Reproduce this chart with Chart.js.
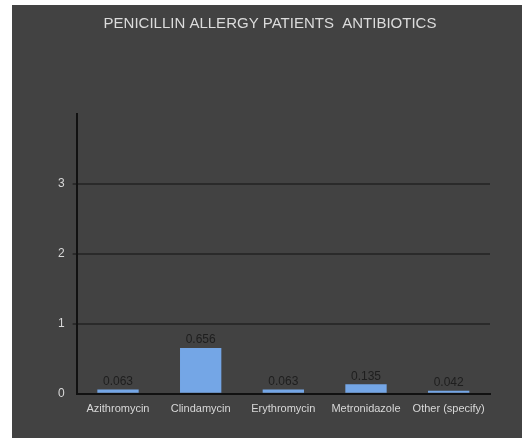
<!DOCTYPE html>
<html>
<head>
<meta charset="utf-8">
<script src="https://cdn.jsdelivr.net/npm/chart.js@4/dist/chart.umd.min.js"></script>
<style>
  html, body { margin: 0; padding: 0; background: #ffffff; }
  #panel { position: absolute; left: 12px; top: 5px; width: 510px; height: 433px; background: #424242; }
  #chart { display: block; }
</style>
</head>
<body>
<div id="panel"><canvas id="chart" width="510" height="433"></canvas></div>
<script>
const categories = ["Azithromycin", "Clindamycin", "Erythromycin", "Metronidazole", "Other (specify)"];
const shares = [0.063, 0.656, 0.063, 0.135, 0.042];
const shareLabels = ["0.063", "0.656", "0.063", "0.135", "0.042"];
const yTicks = [0, 1, 2, 3];

const narrow = "'Liberation Sans Narrow', 'Arial Narrow', 'Liberation Sans', sans-serif";

const valueLabels = {
  id: 'valueLabels',
  afterDatasetsDraw(chart) {
    const ctx = chart.ctx;
    const meta = chart.getDatasetMeta(0);
    ctx.save();
    ctx.font = "12px " + narrow;
    ctx.fillStyle = "#1e1e1e";
    ctx.textAlign = "center";
    ctx.textBaseline = "bottom";
    meta.data.forEach((bar, i) => {
      ctx.fillText(shareLabels[i], bar.x, bar.y - 2);
    });
    ctx.restore();
  }
};

new Chart(document.getElementById('chart'), {
  type: 'bar',
  data: {
    labels: categories,
    datasets: [{
      data: shares,
      backgroundColor: '#74a6e6',
      barPercentage: 0.5,
      categoryPercentage: 1.0
    }]
  },
  options: {
    responsive: false,
    animation: false,
    events: [],
    layout: { padding: { left: 38, right: 32, top: 0, bottom: 13 } },
    plugins: {
      legend: { display: false },
      tooltip: { enabled: false },
      title: {
        display: true,
        text: 'PENICILLIN ALLERGY PATIENTS  ANTIBIOTICS',
        color: '#dcdcdc',
        font: { family: narrow, size: 15, weight: 'normal' },
        padding: { top: 10, bottom: 81 }
      }
    },
    scales: {
      x: {
        grid: { display: false, drawTicks: false },
        border: { display: true, color: '#111111', width: 2 },
        ticks: { color: '#d8d8d8', font: { family: narrow, size: 11 }, padding: 9, maxRotation: 0, autoSkip: false }
      },
      y: {
        min: 0,
        max: 4,
        afterBuildTicks(scale) { scale.ticks = [0, 1, 2, 3, 4].map(v => ({ value: v })); },
        grid: {
          color: ctx => (ctx.tick && yTicks.includes(ctx.tick.value) && ctx.tick.value !== 0) ? '#2a2a2a' : 'rgba(0,0,0,0)',
          lineWidth: 2,
          drawTicks: true,
          tickLength: 4
        },
        border: { display: true, color: '#111111', width: 2 },
        ticks: {
          color: '#d8d8d8',
          font: { family: narrow, size: 12 },
          padding: 8,
          callback: v => yTicks.includes(v) ? String(v) : ''
        }
      }
    }
  },
  plugins: [valueLabels]
});
</script>
</body>
</html>
